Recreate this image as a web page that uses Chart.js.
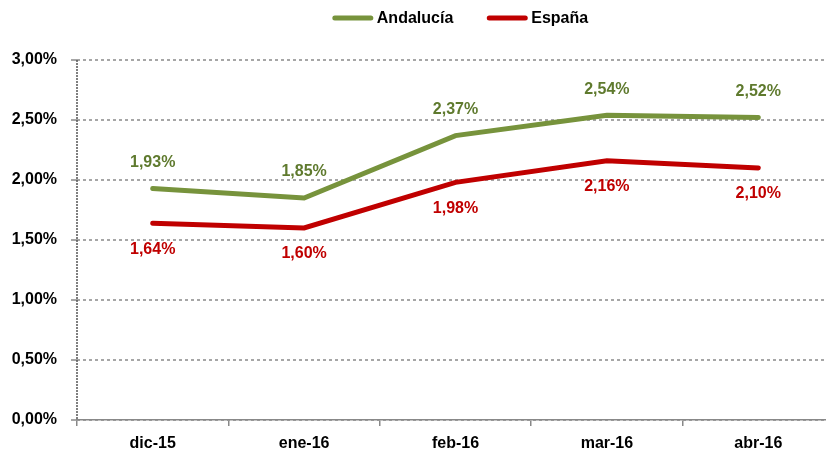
<!DOCTYPE html>
<html>
<head>
<meta charset="utf-8">
<script src="https://cdn.jsdelivr.net/npm/chart.js@4"></script>
<style>
  html, body { margin: 0; padding: 0; background: #fff; overflow: hidden; }
  #wrap { width: 840px; height: 455px; }
</style>
</head>
<body>
<div id="wrap"><canvas id="jsChart" width="840" height="455"></canvas></div>
<script>
// data
const months = ['dic-15', 'ene-16', 'feb-16', 'mar-16', 'abr-16'];
const andalucia = [1.93, 1.85, 2.37, 2.54, 2.52];
const espana = [1.64, 1.60, 1.98, 2.16, 2.10];
const yTicks = [0, 0.5, 1, 1.5, 2, 2.5, 3];

const green = '#77933C';
const red = '#C00000';
const labelColors = ['#5F7A2E', '#C00000'];
const font = { family: '"Liberation Sans", Arial, sans-serif', size: 16, weight: 'bold' };

const fmt = (v) => v.toFixed(2).replace('.', ',') + '%';

// value labels: green above, red below
const valueLabels = {
  id: 'valueLabels',
  afterDatasetsDraw(chart) {
    const ctx = chart.ctx;
    ctx.save();
    ctx.font = `bold ${font.size}px ${font.family}`;
    ctx.textAlign = 'center';
    ctx.textBaseline = 'middle';
    chart.data.datasets.forEach((ds, i) => {
      const meta = chart.getDatasetMeta(i);
      const off = i === 0 ? -26 : 26;
      ctx.fillStyle = labelColors[i];
      meta.data.forEach((pt, j) => {
        ctx.fillText(fmt(ds.data[j]), pt.x, pt.y + off);
      });
    });
    ctx.restore();
  }
};

// dotted dark vertical axis line
const dottedAxis = {
  id: 'dottedAxis',
  beforeDatasetsDraw(chart) {
    const ctx = chart.ctx;
    const a = chart.chartArea;
    ctx.save();
    ctx.strokeStyle = '#555';
    ctx.lineWidth = 1.5;
    ctx.setLineDash([2, 1]);
    ctx.beginPath();
    ctx.moveTo(a.left, a.top);
    ctx.lineTo(a.left, a.bottom);
    ctx.stroke();
    ctx.restore();
  }
};

// legend with wide gap between entries, like the original
const topLegend = {
  id: 'topLegend',
  afterDraw(chart) {
    const ctx = chart.ctx;
    const area = chart.chartArea;
    ctx.save();
    ctx.font = `bold ${font.size}px ${font.family}`;
    ctx.textBaseline = 'middle';
    const lineW = 40, gapText = 4, gapItem = 34, y = 18;
    const items = chart.data.datasets.map((ds) => ({
      ds, w: lineW + gapText + ctx.measureText(ds.label).width,
    }));
    const total = items.reduce((s, it) => s + it.w, 0) + gapItem * (items.length - 1);
    let x = (area.left + area.right) / 2 + 5 - total / 2;
    items.forEach((it) => {
      ctx.strokeStyle = it.ds.borderColor;
      ctx.lineWidth = 5;
      ctx.lineCap = 'round';
      ctx.beginPath();
      ctx.moveTo(x + 2, y);
      ctx.lineTo(x + lineW - 2, y);
      ctx.stroke();
      ctx.fillStyle = '#000';
      ctx.fillText(it.ds.label, x + lineW + gapText, y + 1);
      x += it.w + gapItem;
    });
    ctx.restore();
  }
};

const ctx = document.getElementById('jsChart');

new Chart(ctx, {
  type: 'line',
  data: {
    labels: months,
    datasets: [
      {
        label: 'Andalucía',
        data: andalucia,
        borderColor: green,
        backgroundColor: green,
        borderWidth: 5,
        pointRadius: 0,
        tension: 0,
        borderCapStyle: 'round',
      },
      {
        label: 'España',
        data: espana,
        borderColor: red,
        backgroundColor: red,
        borderWidth: 5,
        pointRadius: 0,
        tension: 0,
        borderCapStyle: 'round',
      },
    ],
  },
  options: {
    responsive: false,
    animation: false,
    layout: { padding: { top: 60, right: 6, left: 0, bottom: 0 } },
    plugins: {
      tooltip: { enabled: false },
      legend: { display: false },
    },
    scales: {
      x: {
        offset: true,
        grid: {
          offset: true,
          drawOnChartArea: false,
          tickLength: 6,
          color: '#888',
          lineWidth: 1.5,
        },
        border: { color: '#888', width: 1.5 },
        ticks: { color: '#000', font: font, padding: 8 },
        afterFit(scale) { scale.height = 35; },
      },
      y: {
        min: 0,
        max: 3,
        afterBuildTicks(scale) { scale.ticks = yTicks.map((v) => ({ value: v })); },
        grid: {
          color: '#a6a6a6',
          lineWidth: 2,
          tickLength: 6,
        },
        // in v4 border.dash styles the grid lines
        border: { display: false, dash: [3, 3] },
        ticks: { color: '#000', font: font, padding: 14, callback: (v) => fmt(v) },
        afterFit(scale) { scale.width = 77; },
      },
    },
  },
  plugins: [valueLabels, dottedAxis, topLegend],
});
</script>
</body>
</html>
